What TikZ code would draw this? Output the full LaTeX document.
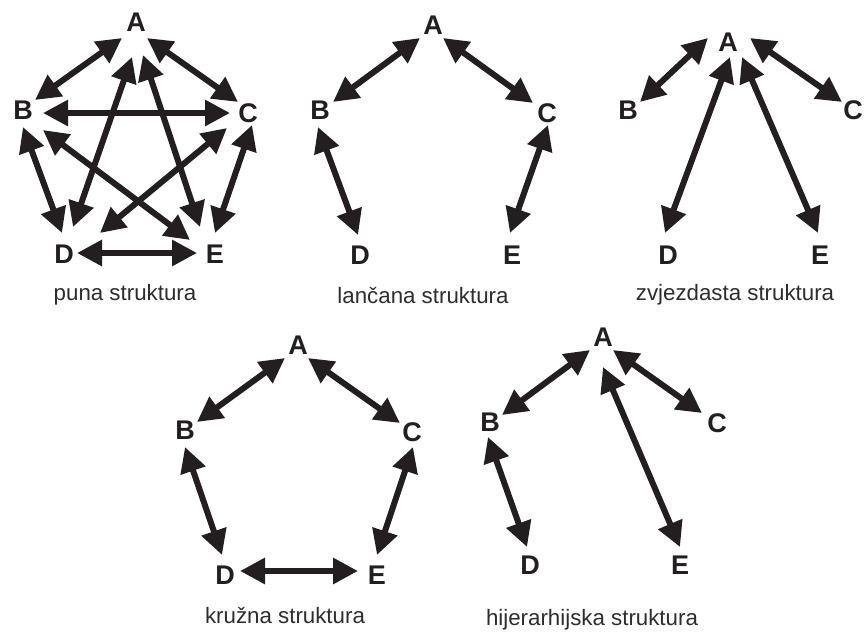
\documentclass[tikz,border=0pt]{standalone}
\usepackage{fontspec}
\setmainfont{Liberation Sans}
\usetikzlibrary{arrows.meta}
\definecolor{ink}{RGB}{35,31,32}
\definecolor{capink}{RGB}{45,45,45}
\tikzset{
  lbl/.style={inner sep=0pt, text=ink, font=\fontsize{27}{30}\selectfont\bfseries},
  captxt/.style={inner sep=0pt, text=capink, font=\fontsize{22.3}{26}\selectfont},
  arr/.style={line width=6pt, draw=ink,
    {Triangle[length=25pt,width=25pt]}-{Triangle[length=25pt,width=25pt]}}
}
\begin{document}
\begin{tikzpicture}[x=1pt,y=-1pt]
\useasboundingbox (0,0) rectangle (865,635);
% ---------- puna struktura ----------
\node[lbl] (pA) at (136,22) {A};
\node[lbl] (pB) at (23,110) {B};
\node[lbl] (pC) at (248,113) {C};
\node[lbl] (pD) at (64,254) {D};
\node[lbl] (pE) at (215,254) {E};
\node[captxt] (pcap) at (125,295) {puna struktura};
\draw[arr] ([shift={(-14,16)}]pA.center) -- ([shift={(12,-10)}]pB.center);
\draw[arr] ([shift={(11,16)}]pA.center) -- ([shift={(-10,-11)}]pC.center);
\draw[arr] ([shift={(20,3)}]pB.center) -- ([shift={(-18,0)}]pC.center);
\draw[arr] ([shift={(-4,35)}]pA.center) -- ([shift={(9,-27)}]pD.center);
\draw[arr] ([shift={(7,33)}]pA.center) -- ([shift={(-15,-27)}]pE.center);
\draw[arr] ([shift={(0,17)}]pB.center) -- ([shift={(-2,-21)}]pD.center);
\draw[arr] ([shift={(20,20)}]pB.center) -- ([shift={(-25,-14)}]pE.center);
\draw[arr] ([shift={(-21,15)}]pC.center) -- ([shift={(36,-21)}]pD.center);
\draw[arr] ([shift={(4,12)}]pC.center) -- ([shift={(0,-21)}]pE.center);
\draw[arr] ([shift={(13,-1)}]pD.center) -- ([shift={(-18,-1)}]pE.center);
% ---------- lancana struktura ----------
\node[lbl] (lA) at (433,25) {A};
\node[lbl] (lB) at (320,110) {B};
\node[lbl] (lC) at (547,113) {C};
\node[lbl] (lD) at (360,255) {D};
\node[lbl] (lE) at (512,255) {E};
\node[captxt] (lcap) at (423,295) {lančana struktura};
\draw[arr] ([shift={(-13,13)}]lA.center) -- ([shift={(13,-8)}]lB.center);
\draw[arr] ([shift={(10,13)}]lA.center) -- ([shift={(-14,-10)}]lC.center);
\draw[arr] ([shift={(-2,17)}]lB.center) -- ([shift={(-2,-20)}]lD.center);
\draw[arr] ([shift={(1,12)}]lC.center) -- ([shift={(-2,-22)}]lE.center);
% ---------- zvjezdasta struktura ----------
\node[lbl] (zA) at (728,42) {A};
\node[lbl] (zB) at (628,110) {B};
\node[lbl] (zC) at (853,110) {C};
\node[lbl] (zD) at (668,255) {D};
\node[lbl] (zE) at (820,255) {E};
\node[captxt] (zcap) at (735,295) {zvjezdasta struktura};
\draw[arr] ([shift={(-20,-4)}]zA.center) -- ([shift={(12,-8)}]zB.center);
\draw[arr] ([shift={(22,-4)}]zA.center) -- ([shift={(-11,-8)}]zC.center);
\draw[arr] ([shift={(2,15)}]zA.center) -- ([shift={(-3,-22)}]zD.center);
\draw[arr] ([shift={(14,15)}]zA.center) -- ([shift={(-2,-22)}]zE.center);
% ---------- kruzna struktura ----------
\node[lbl] (kA) at (298,345) {A};
\node[lbl] (kB) at (185,430) {B};
\node[lbl] (kC) at (412,432) {C};
\node[lbl] (kD) at (225,575) {D};
\node[lbl] (kE) at (377,575) {E};
\node[captxt] (kcap) at (285,615) {kružna struktura};
\draw[arr] ([shift={(-13,13)}]kA.center) -- ([shift={(12,-8)}]kB.center);
\draw[arr] ([shift={(10,13)}]kA.center) -- ([shift={(-12,-9)}]kC.center);
\draw[arr] ([shift={(0,17)}]kB.center) -- ([shift={(-3,-20)}]kD.center);
\draw[arr] ([shift={(1,15)}]kC.center) -- ([shift={(0,-20)}]kE.center);
\draw[arr] ([shift={(15,-4)}]kD.center) -- ([shift={(-19,-4)}]kE.center);
% ---------- hijerarhijska struktura ----------
\node[lbl] (hA) at (603,337) {A};
\node[lbl] (hB) at (490,422) {B};
\node[lbl] (hC) at (717,423) {C};
\node[lbl] (hD) at (530,565) {D};
\node[lbl] (hE) at (680,565) {E};
\node[captxt] (hcap) at (592,620) {hijerarhijska struktura};
\draw[arr] ([shift={(-13,13)}]hA.center) -- ([shift={(12,-7)}]hB.center);
\draw[arr] ([shift={(10,13)}]hA.center) -- ([shift={(-15,-10)}]hC.center);
\draw[arr] ([shift={(-2,15)}]hB.center) -- ([shift={(-3,-18)}]hD.center);
\draw[arr] ([shift={(0,30)}]hA.center) -- ([shift={(0,-18)}]hE.center);
\end{tikzpicture}
\end{document}
